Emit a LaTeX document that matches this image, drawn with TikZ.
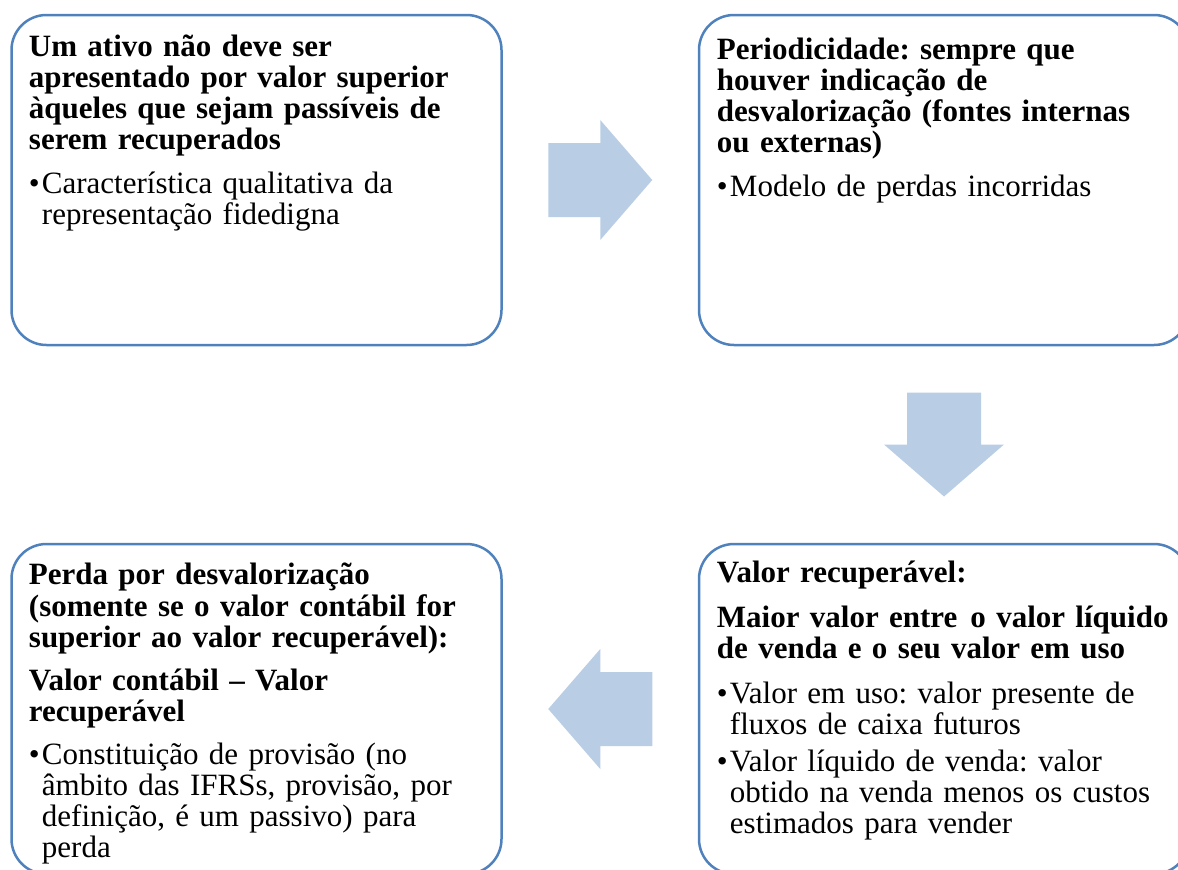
\documentclass[tikz,border=0pt]{standalone}
\usepackage{fontspec}
\setmainfont{Liberation Serif}
\usetikzlibrary{positioning,calc}
\definecolor{boxblue}{RGB}{79,129,189}
\definecolor{arrowblue}{RGB}{185,205,229}
\newcommand{\bulletmark}{\makebox[13pt][l]{•}}
\newcommand{\bulletpad}{\hspace*{13pt}}
\tikzset{blockarrow/.pic = {\fill[arrowblue] (-52pt,-37pt) -- (0pt,-37pt) -- (0pt,-60pt) -- (52pt,0pt) -- (0pt,60pt) -- (0pt,37pt) -- (-52pt,37pt) -- cycle;}}

\begin{document}
\begin{tikzpicture}[x=1pt, y=-1pt,
	box/.style = {draw=boxblue, line width=2.5pt, rounded corners=35pt, minimum width=490pt, minimum height=330pt},
	txt/.style = {inner sep=0pt, text width=468pt, align=left, font=\fontsize{31}{31}\selectfont\frenchspacing}]
		\useasboundingbox (0,0) rectangle (1178,870);
		\clip (0,0) rectangle (1178,870);
		\node[box] (ativo) 	at (256.5,180)	{};
		\node[box] (period)	at (944,180)	{};
		\node[box] (recup) 	at (944,709)	{};
		\node[box] (perda) 	at (256.5,709)	{};
		\node[txt] (t1) [below right=20.5pt and 18.5pt of ativo.north west]
			{\strut\textbf{Um ativo não deve ser\\apresentado por valor superior\\àqueles que sejam passíveis de\\serem recuperados}\\[13pt]
			\bulletmark Característica qualitativa da\\\bulletpad representação fidedigna};
		\node[txt] (t2) [below right=23.5pt and 19pt of period.north west]
			{\strut\textbf{Periodicidade: sempre que\\houver indicação de\\desvalorização (fontes internas\\ou externas)}\\[13pt]
			\bulletmark Modelo de perdas incorridas};
		\node[txt] (t3) [below right=17.5pt and 19pt of recup.north west]
			{\strut\textbf{Valor recuperável:}\\[14pt]
			\textbf{Maior valor entre\hspace{13pt}o valor líquido\\de venda e o seu valor em uso}\\[14pt]
			\bulletmark Valor em uso: valor presente de\\\bulletpad fluxos de caixa futuros\\[6pt]
			\bulletmark Valor líquido de venda: valor\\\bulletpad obtido na venda menos os custos\\\bulletpad estimados para vender};
		\node[txt] (t4) [below right=19.5pt and 18.5pt of perda.north west]
			{\strut\textbf{Perda por desvalorização\\(somente se o valor contábil for\\superior ao valor recuperável):}\\[12pt]
			\textbf{Valor contábil – Valor\\recuperável}\\[12pt]
			\bulletmark Constituição de provisão (no\\\bulletpad âmbito das IFRSs, provisão, por\\\bulletpad definição, é um passivo) para\\\bulletpad perda};
		\coordinate (a1) at ($(ativo.east)!0.5!(period.west)$);
		\coordinate (a2) at ($(period.south)!0.5!(recup.north)$);
		\coordinate (a3) at ($(recup.west)!0.5!(perda.east)$);
		\pic at (a1) {blockarrow};
		\pic[rotate=-90] at (a2) {blockarrow};
		\pic[rotate=180] at (a3) {blockarrow};
	\end{tikzpicture}
\end{document}
